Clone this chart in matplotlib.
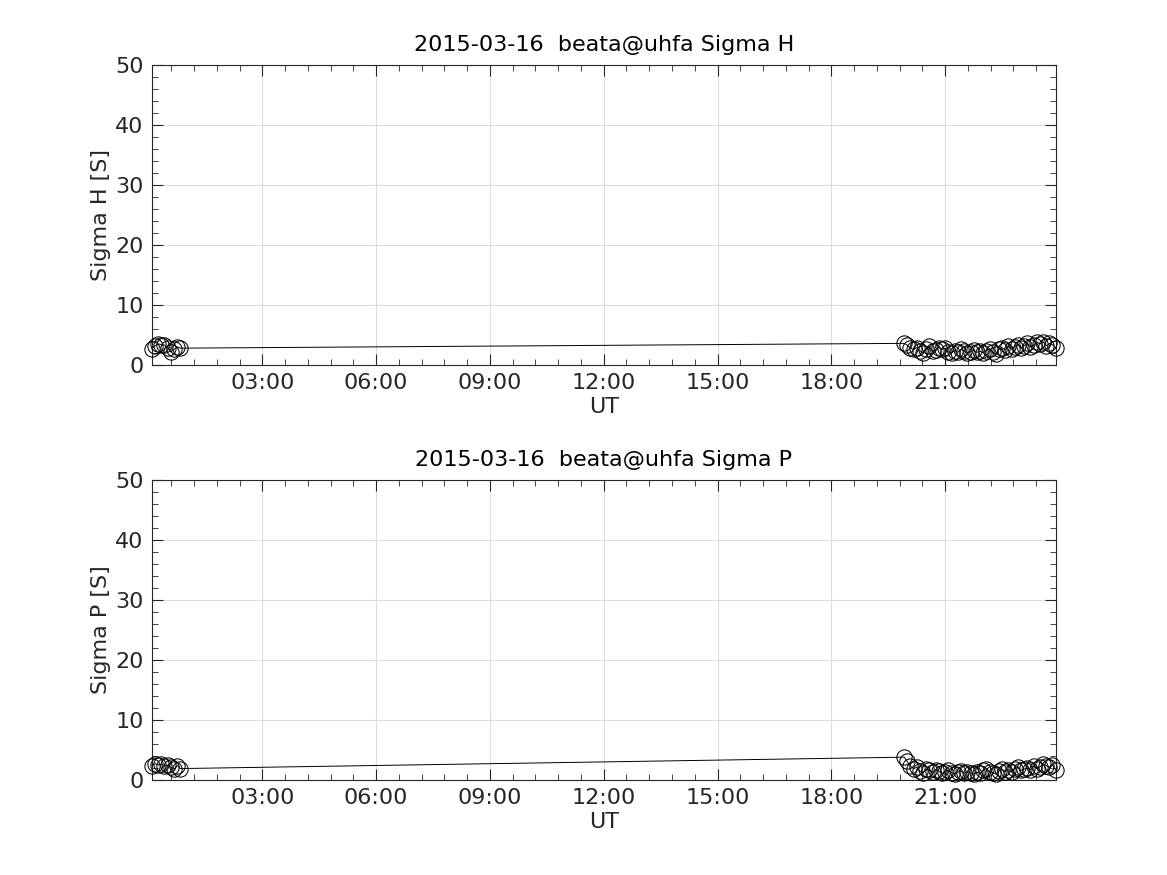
import matplotlib
matplotlib.use("Agg")
import matplotlib.pyplot as plt
from matplotlib.ticker import MultipleLocator, FuncFormatter

# Time in decimal hours UT
hours = [0.09, 0.17, 0.26, 0.34, 0.42, 0.51, 0.59, 0.67, 0.76, 0.84,
         19.92, 20.00, 20.08, 20.17, 20.25, 20.33, 20.42, 20.50, 20.58, 20.67,
         20.75, 20.83, 20.92, 21.00, 21.08, 21.17, 21.25, 21.33, 21.42, 21.50,
         21.58, 21.67, 21.75, 21.83, 21.92, 22.00, 22.08, 22.17, 22.25, 22.33,
         22.42, 22.50, 22.58, 22.67, 22.75, 22.83, 22.92, 23.00, 23.08, 23.17,
         23.25, 23.33, 23.42, 23.50, 23.58, 23.67, 23.75, 23.83, 23.92]

sigma_h = [2.7, 3.2, 3.5, 3.4, 3.3, 2.8, 2.2, 2.6, 3.0, 2.8,
           3.6, 3.3, 2.8, 2.6, 2.9, 2.4, 2.0, 2.7, 3.1, 2.3,
           2.5, 2.9, 2.6, 2.8, 2.2, 2.0, 2.4, 2.1, 2.6, 2.3,
           2.0, 2.2, 2.5, 2.1, 2.3, 2.0, 2.4, 2.7, 2.2, 1.8,
           2.6, 2.9, 2.5, 3.1, 2.7, 3.0, 3.4, 2.9, 3.2, 3.6,
           3.0, 3.3, 3.8, 3.5, 3.9, 3.2, 3.6, 3.4, 2.8]

sigma_p = [2.4, 2.7, 2.5, 2.6, 2.3, 2.5, 2.1, 1.8, 2.4, 1.9,
           3.8, 3.1, 2.3, 1.9, 2.1, 1.5, 1.2, 1.8, 1.6, 1.3,
           1.7, 1.5, 1.1, 1.4, 1.6, 1.2, 1.0, 1.3, 1.5, 1.1,
           1.4, 1.2, 1.0, 1.3, 1.1, 1.6, 1.9, 1.4, 1.2, 1.0,
           1.5, 1.8, 1.4, 1.7, 1.3, 1.9, 2.1, 1.6, 1.8, 2.0,
           1.7, 2.3, 1.9, 2.2, 2.6, 2.4, 2.1, 2.5, 1.6]

titles = ["2015-03-16  beata@uhfa Sigma H", "2015-03-16  beata@uhfa Sigma P"]
ylabels = ["Sigma H [S]", "Sigma P [S]"]
series = [sigma_h, sigma_p]

plt.rcParams['font.family'] = ['DejaVu Sans']
fig = plt.figure(figsize=(11.67, 8.75), dpi=100)
positions = [[0.1302, 0.5829, 0.7746, 0.3429], [0.1302, 0.1086, 0.7746, 0.3429]]
tick_color = '#262626'
fs = 16

def fmt(x, pos):
    h = int(round(x)) % 24
    return f"{h:02d}:00"

for pos, vals, title, ylab in zip(positions, series, titles, ylabels):
    ax = fig.add_axes(pos)
    ax.plot(hours, vals, color='black', linewidth=0.7, marker='o',
            markersize=11, markerfacecolor='none', markeredgecolor='black',
            markeredgewidth=0.75, clip_on=False, zorder=3)
    ax.set_xlim(hours[0], hours[-1])
    ax.set_ylim(0, 50)
    ax.xaxis.set_major_locator(MultipleLocator(3))
    ax.xaxis.set_minor_locator(MultipleLocator(0.6))
    ax.xaxis.set_major_formatter(FuncFormatter(fmt))
    ax.yaxis.set_major_locator(MultipleLocator(10))
    ax.yaxis.set_minor_locator(MultipleLocator(2))
    ax.grid(True, which='major', color='#dcdcdc', linewidth=0.8)
    ax.set_axisbelow(True)
    ax.tick_params(which='both', direction='in', top=True, right=True,
                   colors=tick_color, labelsize=fs)
    ax.tick_params(which='major', length=8, width=0.8, pad=6)
    ax.tick_params(which='minor', length=4, width=0.6)
    for sp in ax.spines.values():
        sp.set_color(tick_color)
        sp.set_linewidth(0.8)
    ax.set_title(title, fontsize=fs, color='black', pad=10)
    ax.set_xlabel("UT", fontsize=fs, color=tick_color, labelpad=3)
    ax.set_ylabel(ylab, fontsize=fs, color=tick_color, labelpad=3)

fig.savefig("out.png", dpi=100, facecolor='white')
